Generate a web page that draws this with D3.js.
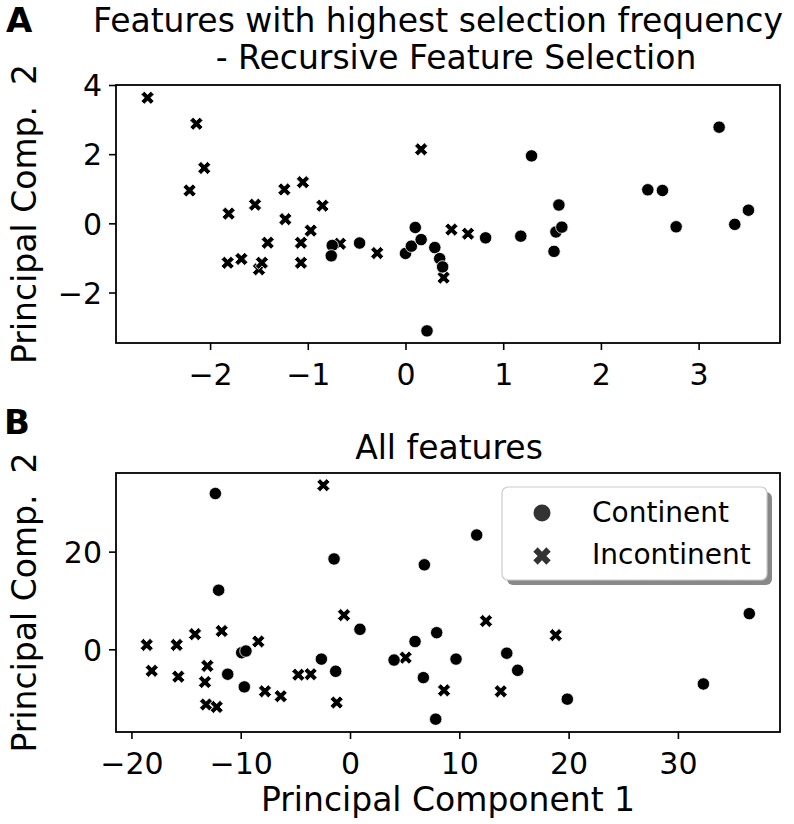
<!DOCTYPE html>
<html><head><meta charset="utf-8">
<script src="https://cdn.jsdelivr.net/npm/d3@7"></script>
<style>body{margin:0;background:#fff} text{font-family:"DejaVu Sans",sans-serif;fill:#000}</style>
</head><body><svg id="c" width="794" height="824"></svg>
<script>
// ---------------- data ----------------
const groups = ["Continent", "Incontinent"];
const rfeContinent = [[-0.75,-0.64],[-0.76,-0.94],[-0.47,-0.57],[0.00,-0.87],[0.06,-0.66],[0.10,-0.12],[0.16,-0.47],[0.22,-3.11],[0.30,-0.70],[0.35,-1.02],[0.38,-1.26],[0.82,-0.42],[1.18,-0.37],[1.29,1.95],[1.57,0.53],[1.54,-0.25],[1.60,-0.11],[1.52,-0.81],[2.48,0.97],[2.63,0.95],[2.77,-0.10],[3.21,2.78],[3.37,-0.03],[3.51,0.38]];
const rfeIncontinent = [[-2.64,3.63],[-2.14,2.88],[-2.06,1.60],[-2.21,0.95],[-1.81,0.28],[-1.82,-1.14],[-1.68,-1.03],[-1.54,0.54],[-1.41,-0.56],[-1.50,-1.33],[-1.47,-1.14],[-1.24,0.98],[-1.23,0.12],[-1.05,1.19],[-1.07,-0.56],[-1.07,-1.14],[-0.97,-0.21],[-0.85,0.51],[-0.67,-0.59],[-0.29,-0.86],[0.16,2.14],[0.47,-0.18],[0.64,-0.30],[0.39,-1.57]];
const allContinent = [[-12.32,31.9],[-1.46,18.5],[6.80,17.3],[-12.02,12.1],[0.91,4.1],[7.93,3.4],[5.95,1.6],[-9.91,-0.7],[-9.52,-0.35],[-2.62,-2.0],[-11.19,-5.1],[-1.31,-4.5],[-9.67,-7.7],[4.03,-2.2],[6.71,-5.8],[7.84,-14.3],[11.59,23.4],[9.70,-2.0],[14.34,-0.8],[15.34,-4.3],[32.33,-7.1],[36.53,7.3],[19.88,-10.2]];
const allIncontinent = [[-2.44,33.6],[-18.6,0.9],[-15.86,0.9],[-14.18,3.1],[-11.74,3.75],[-8.39,1.6],[-0.55,7.0],[-18.14,-4.4],[-15.71,-5.6],[-13.05,-3.4],[-13.27,-6.7],[-13.17,-11.3],[-12.2,-11.8],[-7.78,-8.6],[-6.34,-9.6],[-4.73,-5.2],[-3.60,-5.1],[-1.22,-10.9],[5.09,-1.7],[12.44,5.8],[18.82,2.9],[8.6,-8.4],[13.79,-8.6]];
const ticksAx = [-2,-1,0,1,2,3];
const ticksAy = [-2,0,2,4];
const ticksBx = [-20,-10,0,10,20,30];
const ticksBy = [0,20];
const titleA = ["Features with highest selection frequency", "- Recursive Feature Selection"];
const titleB = "All features";
const xLabel = "Principal Component 1";
const yLabel = "Principal Comp.  2";

// ---------------- drawing ----------------
const svg = d3.select("#c");
const fmt = d => d3.format("")(d);

function panel(o) {
  const x = d3.scaleLinear().domain(o.xd).range([116, 780]);
  const y = d3.scaleLinear().domain(o.yd).range([o.bottom, o.top]);
  const g = svg.append("g");
  // axes
  const ax = g.append("g").attr("transform", `translate(0,${o.bottom})`)
    .call(d3.axisBottom(x).tickValues(o.xt).tickSize(7).tickPadding(5).tickFormat(fmt));
  const ay = g.append("g").attr("transform", `translate(116,0)`)
    .call(d3.axisLeft(y).tickValues(o.yt).tickSize(7).tickPadding(7).tickFormat(fmt));
  [ax, ay].forEach(a => {
    a.select(".domain").remove();
    a.selectAll(".tick line").attr("stroke", "#000").attr("stroke-width", 1.6);
    a.selectAll(".tick text").attr("font-size", 30).attr("font-family", "DejaVu Sans").attr("fill", "#000");
  });
  ax.selectAll(".tick text").attr("dy", null).attr("y", 42);
  ay.selectAll(".tick text").attr("dy", "0.36em");
  // markers
  const crossSym = d3.symbol(d3.symbolCross, 108);
  g.append("g").selectAll("path").data(o.inc).join("path")
    .attr("d", crossSym)
    .attr("transform", d => `translate(${x(d[0])},${y(d[1])}) rotate(45)`)
    .attr("fill", "#000").attr("stroke", "#fff").attr("stroke-width", 0.8);
  g.append("g").selectAll("circle").data(o.cont).join("circle")
    .attr("cx", d => x(d[0])).attr("cy", d => y(d[1])).attr("r", 6.2)
    .attr("fill", "#000").attr("stroke", "#fff").attr("stroke-width", 0.8);
  // frame
  g.append("rect").attr("x", 116).attr("y", o.top).attr("width", 664).attr("height", o.bottom - o.top)
    .attr("fill", "none").attr("stroke", "#000").attr("stroke-width", 1.8);
  // y label
  g.append("text").attr("transform", `translate(36,${(o.top + o.bottom) / 2}) rotate(-90)`)
    .attr("text-anchor", "middle").attr("font-size", 33).attr("xml:space", "preserve")
    .style("white-space", "pre").text(yLabel);
  return { x, y, g };
}

const A = panel({ xd: [-2.963, 3.833], yd: [-3.46, 4.0], top: 85, bottom: 343,
  xt: ticksAx, yt: ticksAy, cont: rfeContinent, inc: rfeIncontinent });
const B = panel({ xd: [-21.41, 39.34], yd: [-16.93, 36.1], top: 473, bottom: 732,
  xt: ticksBx, yt: ticksBy, cont: allContinent, inc: allIncontinent });

// titles
svg.append("text").attr("x", 438).attr("y", 32).attr("text-anchor", "middle").attr("font-size", 33).text(titleA[0]);
svg.append("text").attr("x", 456).attr("y", 69).attr("text-anchor", "middle").attr("font-size", 33).text(titleA[1]);
svg.append("text").attr("x", 449).attr("y", 459).attr("text-anchor", "middle").attr("font-size", 33).text(titleB);
svg.append("text").attr("x", 448).attr("y", 811).attr("text-anchor", "middle").attr("font-size", 33).text(xLabel);
// panel letters
svg.append("text").attr("x", 6).attr("y", 32).attr("font-size", 34).attr("font-weight", "bold").text("A");
svg.append("text").attr("x", 4).attr("y", 434).attr("font-size", 34).attr("font-weight", "bold").text("B");

// legend
const lg = svg.append("g");
lg.append("rect").attr("x", 507).attr("y", 492).attr("width", 265).attr("height", 93).attr("rx", 6)
  .attr("fill", "#888");
lg.append("rect").attr("x", 502).attr("y", 487).attr("width", 265).attr("height", 93).attr("rx", 6)
  .attr("fill", "#fff").attr("stroke", "#ccc").attr("stroke-width", 1.2);
lg.append("circle").attr("cx", 542).attr("cy", 513).attr("r", 8.5).attr("fill", "#333");
lg.append("path").attr("d", d3.symbol(d3.symbolCross, 190)()).attr("transform", "translate(542,556) rotate(45)").attr("fill", "#333");
lg.selectAll("text.lt").data(groups).join("text").attr("class", "lt")
  .attr("x", 592).attr("y", (d, i) => 522 + i * 42).attr("font-size", 28).text(d => d);
</script></body></html>
